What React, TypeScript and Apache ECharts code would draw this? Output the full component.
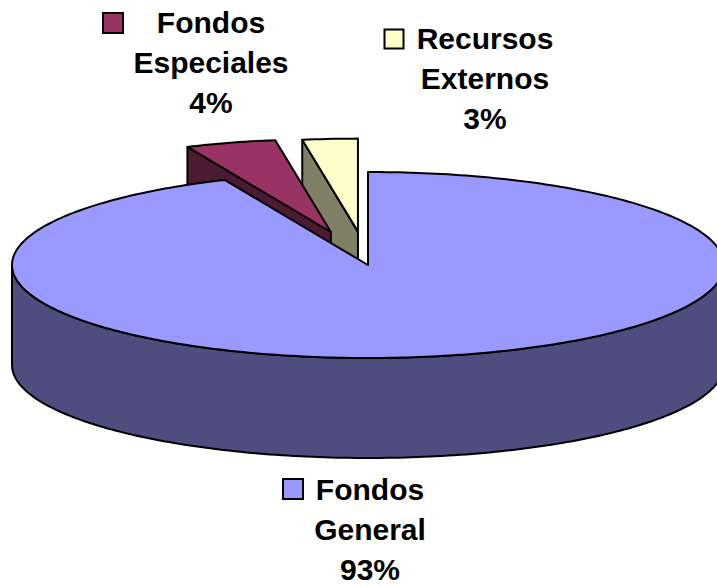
import React, { useEffect, useRef } from "react";
import * as echarts from "echarts";

// ---- data ----
const categories = ["Fondos General", "Fondos Especiales", "Recursos Externos"];
const values = [93.4, 4.1, 2.5];

// ---- styles ----
const topColors = ["#9999FF", "#993366", "#FFFFCC"];
const sideColors = ["#4D4D80", "#4D1A33", "#808066"];
const explodeDist = [0, 0.37, 0.36];
const labelCenters = [
  [370, 529],
  [211, 62.5],
  [485, 78],
];
const keyBoxes = [
  [293, 489, 20],
  [113, 23, 20],
  [394, 39, 19],
];

const CX = 368;
const CY = 265;
const RX = 356;
const RY = 93;
const DEPTH = 100;
const FONT = "Arial, Liberation Sans, Helvetica, sans-serif";

const rad = (d: number) => (d * Math.PI) / 180;

type Slice = { lo: number; hi: number; ox: number; oy: number; key: number };

function buildSlices(): Slice[] {
  const total = values.reduce((a, b) => a + b, 0);
  let hi = 90;
  const out: Slice[] = [];
  values.forEach((v, i) => {
    const span = (v / total) * 360;
    const lo = hi - span;
    const mid = (lo + hi) / 2;
    const e = explodeDist[i];
    const ox = e * RX * Math.cos(rad(mid));
    const oy = -e * RY * Math.sin(rad(mid));
    const key = CY + oy - 0.5 * RY * Math.sin(rad(mid));
    out.push({ lo, hi, ox, oy, key });
    hi = lo;
  });
  return out;
}

export default function App() {
  const ref = useRef<HTMLDivElement>(null);

  useEffect(() => {
    if (!ref.current) return;
    const chart = echarts.init(ref.current, undefined, { renderer: "svg" });
    const slices = buildSlices();
    const total = values.reduce((a, b) => a + b, 0);
    const order = slices
      .map((s, i) => ({ i, k: s.key }))
      .sort((a, b) => a.k - b.k)
      .map((o) => o.i);
    const rank: number[] = [];
    order.forEach((idx, r) => (rank[idx] = r));

    const renderItem = (params: any, api: any) => {
      const i = params.dataIndex;
      const s = slices[i];
      const P = (deg: number, r: number, h: number) => [
        CX + s.ox + r * RX * Math.cos(rad(deg)),
        CY + s.oy - r * RY * Math.sin(rad(deg)) + h * DEPTH,
      ];
      const arc = (a: number, b: number, h: number) => {
        const pts: number[][] = [];
        const n = Math.max(2, Math.ceil(Math.abs(b - a)));
        for (let k = 0; k <= n; k++) pts.push(P(a + ((b - a) * k) / n, 1, h));
        return pts;
      };
      const base = rank[i] * 10;
      const lineStyle = { stroke: "#000", lineWidth: 2, lineJoin: "round" };
      const children: any[] = [];
      // radial faces
      if (Math.cos(rad(s.hi)) < -1e-6) {
        children.push({
          type: "polygon",
          z2: base + 1,
          shape: { points: [P(s.hi, 0, 0), P(s.hi, 1, 0), P(s.hi, 1, 1), P(s.hi, 0, 1)] },
          style: { fill: sideColors[i], ...lineStyle },
        });
      }
      if (Math.cos(rad(s.lo)) > 1e-6) {
        children.push({
          type: "polygon",
          z2: base + 1,
          shape: { points: [P(s.lo, 0, 0), P(s.lo, 1, 0), P(s.lo, 1, 1), P(s.lo, 0, 1)] },
          style: { fill: sideColors[i], ...lineStyle },
        });
      }
      // front outer wall
      for (let k = -2; k <= 2; k++) {
        const a = Math.max(s.lo, -180 + 360 * k);
        const b = Math.min(s.hi, 360 * k);
        if (b - a > 1e-6) {
          const pts = [...arc(a, b, 0), ...arc(b, a, 1)];
          children.push({
            type: "polygon",
            z2: base + 2,
            shape: { points: pts },
            style: { fill: sideColors[i], ...lineStyle },
          });
        }
      }
      // top face
      children.push({
        type: "polygon",
        z2: base + 3,
        shape: { points: [P(0, 0, 0), ...arc(s.lo, s.hi, 0)] },
        style: { fill: topColors[i], ...lineStyle },
      });
      // label
      const pct = Math.round((api.value(0) / total) * 100);
      const [lx, ly] = labelCenters[i];
      children.push({
        type: "text",
        z2: 100,
        x: lx,
        y: ly,
        style: {
          text: categories[i].replace(" ", "\n") + "\n" + pct + "%",
          fill: "#000",
          fontSize: 30,
          fontWeight: "bold",
          fontFamily: FONT,
          align: "center",
          verticalAlign: "middle",
          lineHeight: 40,
        },
      });
      const [kx, ky, ks] = keyBoxes[i];
      children.push({
        type: "rect",
        z2: 100,
        shape: { x: kx - ks / 2, y: ky - ks / 2, width: ks, height: ks },
        style: { fill: topColors[i], stroke: "#000", lineWidth: 2 },
      });
      return { type: "group", children };
    };

    chart.setOption({
      animation: false,
      backgroundColor: "#ffffff",
      series: [
        {
          type: "custom",
          coordinateSystem: "none",
          renderItem,
          data: categories.map((name, i) => ({ name, value: values[i] })),
        },
      ],
    });
    return () => chart.dispose();
  }, []);

  return (
    <div style={{ position: "fixed", left: 0, top: 0, width: 717, height: 586, background: "#fff" }}>
      <div ref={ref} style={{ width: 717, height: 586 }} />
    </div>
  );
}
